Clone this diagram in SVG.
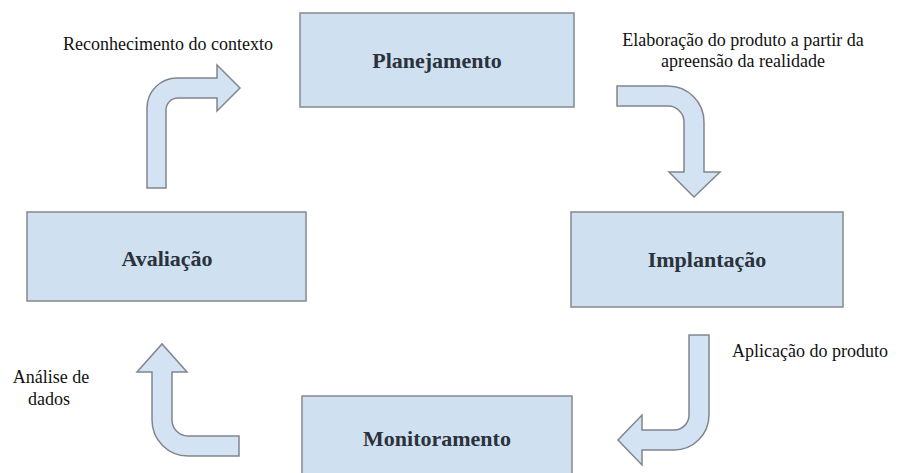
<svg xmlns="http://www.w3.org/2000/svg" width="899" height="473" viewBox="0 0 899 473">
<style>
.box{fill:#cfe0f1;stroke:#8a8f95;stroke-width:1.6}
.arr{fill:#d3e3f4;stroke:#80868c;stroke-width:1.5;stroke-linejoin:miter}
.nl{font-family:'Liberation Serif','Times New Roman',serif;font-weight:bold;font-size:22px;fill:#2b323c;text-anchor:middle}
.lb{font-family:'Liberation Serif','Times New Roman',serif;font-size:18px;fill:#111}
</style>
<rect width="899" height="473" fill="#ffffff"/>
<g id="planejamento">
<rect class="box" x="300" y="13" width="274" height="94"/>
<text class="nl" x="437" y="68">Planejamento</text>
</g>
<g id="implantacao">
<rect class="box" x="571" y="212" width="272" height="95"/>
<text class="nl" x="707" y="267">Implantação</text>
</g>
<g id="monitoramento">
<rect class="box" x="302" y="396" width="270" height="100"/>
<text class="nl" x="437" y="446">Monitoramento</text>
</g>
<g id="avaliacao">
<rect class="box" x="27" y="212" width="279" height="89"/>
<text class="nl" x="167" y="266">Avaliação</text>
</g>
<g id="connectors">
<path class="arr" d="M147,188 V108 A30,30 0 0 1 177,78 H217 V65 L240,88 L217,111 V98 H178 A12,12 0 0 0 166,110 V188 Z"/>
<path class="arr" d="M617,86 H668 A36,36 0 0 1 704,122 V172 H720 L694,197 L669,172 H684 V122 A16,16 0 0 0 668,106 H617 Z"/>
<path class="arr" d="M689,335 H709 V415 A35,35 0 0 1 674,450 H642 V465 L618,440 L642,415 V430 H674 A15,15 0 0 0 689,415 Z"/>
<path class="arr" d="M239,456 H188 A36,36 0 0 1 152,420 V372 H137 L162,344 L187,372 H172 V420 A16,16 0 0 0 188,436 H239 Z"/>
</g>
<g id="labels">
<text class="lb" x="168" y="50" text-anchor="middle">Reconhecimento do contexto</text>
<text class="lb" x="743" y="46" text-anchor="middle">Elaboração do produto a partir da</text>
<text class="lb" x="743" y="67" text-anchor="middle">apreensão da realidade</text>
<text class="lb" x="810" y="357" text-anchor="middle">Aplicação do produto</text>
<text class="lb" x="51" y="383" text-anchor="middle">Análise de</text>
<text class="lb" x="49" y="405" text-anchor="middle">dados</text>
</g>
</svg>
